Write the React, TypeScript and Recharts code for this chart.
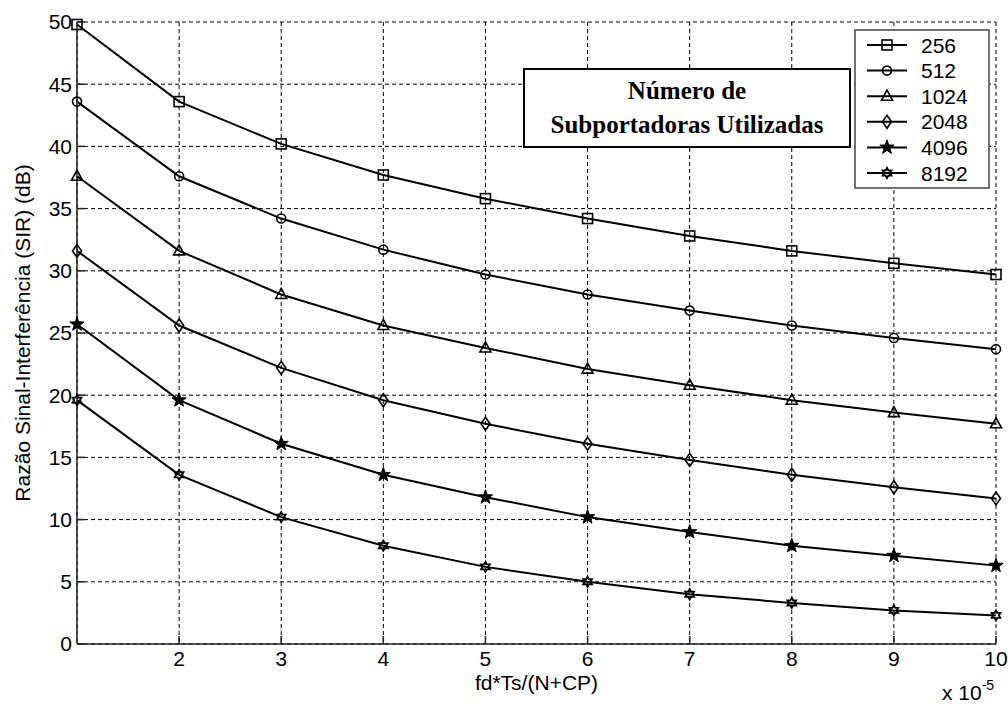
import { CartesianGrid, Label, Legend, Line, LineChart, XAxis, YAxis } from "recharts";

const xValues = [1, 2, 3, 4, 5, 6, 7, 8, 9, 10];
const sir256 = [49.8, 43.6, 40.2, 37.7, 35.8, 34.2, 32.8, 31.6, 30.6, 29.7];
const sir512 = [43.6, 37.6, 34.2, 31.7, 29.7, 28.1, 26.8, 25.6, 24.6, 23.7];
const sir1024 = [37.6, 31.6, 28.1, 25.6, 23.8, 22.1, 20.8, 19.6, 18.6, 17.7];
const sir2048 = [31.6, 25.6, 22.2, 19.6, 17.7, 16.1, 14.8, 13.6, 12.6, 11.7];
const sir4096 = [25.7, 19.6, 16.1, 13.6, 11.8, 10.2, 9.0, 7.9, 7.1, 6.3];
const sir8192 = [19.6, 13.6, 10.2, 7.9, 6.2, 5.0, 4.0, 3.3, 2.7, 2.3];

const seriesNames = ["256", "512", "1024", "2048", "4096", "8192"];
const seriesValues = [sir256, sir512, sir1024, sir2048, sir4096, sir8192];
const seriesShapes = ["square", "circle", "triangle", "diamond", "pentagram", "hexagram"];

const xTicks = [2, 3, 4, 5, 6, 7, 8, 9, 10];
const yTicks = [0, 5, 10, 15, 20, 25, 30, 35, 40, 45, 50];

const data = xValues.map((x, i) => {
  const row: Record<string, number> = { x };
  seriesNames.forEach((name, s) => {
    row[name] = seriesValues[s][i];
  });
  return row;
});

const sans = "'Liberation Sans', Arial, sans-serif";
const serif = "'Liberation Serif', 'Times New Roman', serif";
const axisColor = "#222";

function starPoints(cx: number, cy: number, n: number, outer: number, inner: number) {
  const pts: string[] = [];
  for (let k = 0; k < n * 2; k++) {
    const a = ((-90 + (k * 180) / n) * Math.PI) / 180;
    const r = k % 2 === 0 ? outer : inner;
    pts.push(`${cx + r * Math.cos(a)},${cy + r * Math.sin(a)}`);
  }
  return pts.join(" ");
}

function Marker({ cx, cy, shape }: { cx?: number; cy?: number; shape: string }) {
  if (cx == null || cy == null) return null;
  const common = { fill: "none", stroke: "#000", strokeWidth: 1.6 };
  switch (shape) {
    case "square":
      return <rect x={cx - 5} y={cy - 5} width={10} height={10} {...common} />;
    case "circle":
      return <circle cx={cx} cy={cy} r={4.5} {...common} />;
    case "triangle":
      return <polygon points={`${cx},${cy - 6} ${cx + 5.5},${cy + 4} ${cx - 5.5},${cy + 4}`} {...common} />;
    case "diamond":
      return <polygon points={`${cx},${cy - 6.5} ${cx + 4.5},${cy} ${cx},${cy + 6.5} ${cx - 4.5},${cy}`} {...common} />;
    case "pentagram":
      return <polygon points={starPoints(cx, cy, 5, 7.5, 3)} fill="#000" stroke="#000" strokeWidth={1} />;
    default:
      return <polygon points={starPoints(cx, cy, 6, 5, 2.9)} fill="none" stroke="#000" strokeWidth={1.9} />;
  }
}

function LegendBox() {
  return (
    <svg width={136} height={160} style={{ display: "block" }}>
      <rect x={1} y={1} width={134} height={158} fill="#fff" stroke="#444" strokeWidth={1.5} />
      {seriesNames.map((name, i) => {
        const y = 16 + i * 25.6;
        return (
          <g key={name}>
            <line x1={13} x2={53} y1={y} y2={y} stroke="#000" strokeWidth={2} />
            <Marker cx={33} cy={y} shape={seriesShapes[i]} />
            <text x={67} y={y} dy="0.36em" fontFamily={sans} fontSize={21} fill="#000">
              {name}
            </text>
          </g>
        );
      })}
    </svg>
  );
}

function XTitle(props: any) {
  const vb = props.viewBox;
  if (!vb) return null;
  return (
    <text x={vb.x + vb.width / 2} y={vb.y + 46} textAnchor="middle" fontFamily={sans} fontSize={21} fill="#000">
      fd*Ts/(N+CP)
    </text>
  );
}

function Exponent(props: any) {
  const vb = props.viewBox;
  if (!vb) return null;
  return (
    <text x={vb.x + vb.width - 54} y={vb.y + 56} fontFamily={sans} fontSize={21} fill="#000">
      x 10
      <tspan dy={-10} fontSize={14}>
        -5
      </tspan>
    </text>
  );
}

export default function App() {
  return (
    <div style={{ position: "absolute", left: 0, top: 0, width: 1008, height: 704, background: "#fff" }}>
      <LineChart width={1008} height={704} data={data} margin={{ top: 22, right: 12, bottom: 0, left: 0 }}>
        <CartesianGrid stroke="#000" strokeWidth={1} strokeDasharray="4 3" />
        <XAxis
          dataKey="x"
          type="number"
          domain={[1, 10]}
          ticks={xTicks}
          interval={0}
          height={60}
          tickSize={-8}
          tickMargin={15}
          axisLine={{ stroke: axisColor, strokeWidth: 1.5 }}
          tickLine={{ stroke: axisColor, strokeWidth: 1.5 }}
          tick={{ fill: "#000", fontSize: 21, fontFamily: sans }}
        >
          <Label content={XTitle} />
          <Label content={Exponent} />
        </XAxis>
        <XAxis
          xAxisId="top"
          orientation="top"
          dataKey="x"
          type="number"
          domain={[1, 10]}
          ticks={xTicks}
          interval={0}
          height={0}
          tickSize={-8}
          tickFormatter={() => ""}
          axisLine={{ stroke: axisColor, strokeWidth: 1.5 }}
          tickLine={{ stroke: axisColor, strokeWidth: 1.5 }}
        />
        <YAxis
          type="number"
          domain={[0, 50]}
          ticks={yTicks}
          interval={0}
          width={77}
          tickSize={-8}
          tickMargin={13}
          axisLine={{ stroke: axisColor, strokeWidth: 1.5 }}
          tickLine={{ stroke: axisColor, strokeWidth: 1.5 }}
          tick={{ fill: "#000", fontSize: 21, fontFamily: sans }}
        >
          <Label
            value="Razão Sinal-Interferência (SIR) (dB)"
            position="insideLeft"
            offset={23}
            angle={-90}
            fill="#000"
            fontSize={21}
            fontFamily={sans}
            style={{ textAnchor: "middle" }}
          />
        </YAxis>
        <YAxis
          yAxisId="right"
          orientation="right"
          type="number"
          domain={[0, 50]}
          ticks={yTicks}
          interval={0}
          width={0}
          tickSize={-8}
          tickFormatter={() => ""}
          axisLine={{ stroke: axisColor, strokeWidth: 1.5 }}
          tickLine={{ stroke: axisColor, strokeWidth: 1.5 }}
        />
        {seriesNames.map((name, i) => (
          <Line
            key={name}
            dataKey={name}
            name={name}
            type="linear"
            stroke="#000"
            strokeWidth={2}
            isAnimationActive={false}
            dot={(p: any) => <Marker key={`${name}-${p.index}`} cx={p.cx} cy={p.cy} shape={seriesShapes[i]} />}
            activeDot={false}
          />
        ))}
        <Legend
          layout="vertical"
          align="center"
          verticalAlign="middle"
          content={() => <LegendBox />}
          wrapperStyle={{ position: "absolute", left: 854, top: 29, width: 136, height: 160 }}
        />
      </LineChart>
      <div
        style={{
          position: "absolute",
          left: 523,
          top: 68,
          width: 328,
          height: 80,
          boxSizing: "border-box",
          border: "2px solid #000",
          background: "#fff",
          display: "flex",
          flexDirection: "column",
          justifyContent: "center",
          alignItems: "center",
          fontFamily: serif,
          fontWeight: "bold",
          fontSize: 25,
          lineHeight: "34px",
          color: "#000",
        }}
      >
        <div>Número de</div>
        <div>Subportadoras Utilizadas</div>
      </div>
    </div>
  );
}
